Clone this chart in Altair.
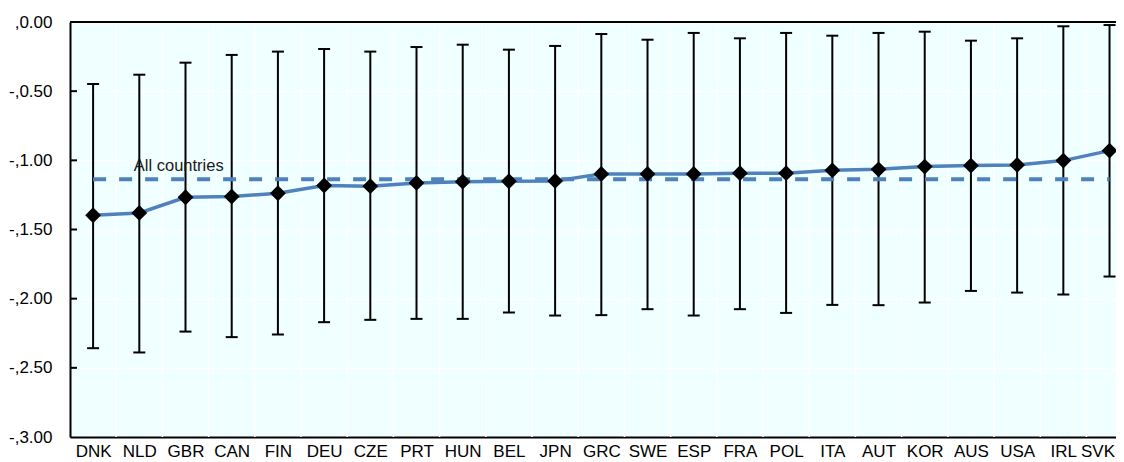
import altair as alt
import pandas as pd

countries = ["DNK", "NLD", "GBR", "CAN", "FIN", "DEU", "CZE", "PRT", "HUN", "BEL", "JPN",
             "GRC", "SWE", "ESP", "FRA", "POL", "ITA", "AUT", "KOR", "AUS", "USA", "IRL", "SVK"]
estimate = [-1.397, -1.380, -1.267, -1.262, -1.238, -1.182, -1.187, -1.163, -1.154, -1.151, -1.149,
            -1.098, -1.098, -1.098, -1.093, -1.093, -1.072, -1.065, -1.045, -1.038, -1.033, -1.002, -0.930]
upper = [-0.448, -0.381, -0.294, -0.238, -0.214, -0.195, -0.214, -0.181, -0.164, -0.200, -0.173,
         -0.087, -0.128, -0.079, -0.118, -0.079, -0.099, -0.079, -0.070, -0.135, -0.118, -0.031, -0.022]
lower = [-2.358, -2.389, -2.238, -2.278, -2.259, -2.170, -2.153, -2.146, -2.146, -2.100, -2.122,
         -2.119, -2.076, -2.122, -2.076, -2.103, -2.045, -2.047, -2.028, -1.944, -1.956, -1.970, -1.840]
all_countries = -1.137
all_label = "All countries"
y_ticks = [0.0, -0.5, -1.0, -1.5, -2.0, -2.5, -3.0]

n = len(countries)
df = pd.DataFrame({
    "idx": list(range(n)),
    "country": countries,
    "est": estimate,
    "hi": upper,
    "lo": lower,
    "allc": [all_countries] * n,
})
bounds = pd.DataFrame({"idx": [i + 0.5 for i in range(n - 1)]})
inner_ticks = pd.DataFrame({"est": y_ticks[1:-1]})
top_line = pd.DataFrame({"est": [0.0]})
label_df = pd.DataFrame({"idx": [1], "allc": [all_countries], "text": [all_label]})

FONT = "Liberation Sans, Arial"
BLUE = "#4F81BD"

x_scale = alt.Scale(domain=[-0.5, 22.14], nice=False, zero=False)
y_scale = alt.Scale(domain=[-3, 0], nice=False, zero=False)

last = n - 1
label_array = "[" + ",".join("'" + c + "'" for c in countries) + "]"
x_axis = alt.Axis(values=list(range(n)), labelExpr=label_array + "[datum.value]",
                  title=None, grid=False, ticks=False, domain=True, domainColor="black",
                  domainWidth=2, labelFont=FONT, labelFontSize=17, labelColor="black",
                  labelPadding=6, labelOverlap=False, labelFlush=False, labelBound=False,
                  labelAngle=0,
                  labelOffset={"condition": {"test": f"datum.value == {last}", "value": -12},
                               "value": 0})
y_axis = alt.Axis(values=y_ticks,
                  labelExpr="datum.value == 0 ? ',0.00' : '-,' + format(abs(datum.value), '.2f')",
                  title=None, grid=True, gridColor="white", gridWidth=1.5, ticks=False,
                  domain=True, domainColor="black", domainWidth=2, labelFont=FONT,
                  labelFontSize=17, labelColor="black", labelPadding=18,
                  labelOverlap=False, labelFlush=False, labelBound=False)

X = lambda f: alt.X(f, scale=x_scale, axis=x_axis)
Y = lambda f: alt.Y(f, scale=y_scale, axis=y_axis)

vgrid = alt.Chart(bounds).mark_rule(color="white", strokeWidth=1.5).encode(x=X("idx:Q"))

whisk = alt.Chart(df).mark_rule(color="black", strokeWidth=2).encode(
    x=X("idx:Q"), y=Y("lo:Q"), y2="hi:Q")
cap_hi = alt.Chart(df).mark_rule(color="black", strokeWidth=2, xOffset=-6, x2Offset=6).encode(
    x=X("idx:Q"), x2="idx:Q", y=Y("hi:Q"))
cap_lo = alt.Chart(df).mark_rule(color="black", strokeWidth=2, xOffset=-6, x2Offset=6).encode(
    x=X("idx:Q"), x2="idx:Q", y=Y("lo:Q"))

dashed = alt.Chart(df).mark_line(color=BLUE, strokeWidth=4, strokeDash=[13, 13]).encode(
    x=X("idx:Q"), y=Y("allc:Q"))
solid = alt.Chart(df).mark_line(color=BLUE, strokeWidth=3.5).encode(
    x=X("idx:Q"), y=Y("est:Q"))
pts = alt.Chart(df).mark_point(shape="diamond", filled=True, size=250, color="black",
                                opacity=1).encode(x=X("idx:Q"), y=Y("est:Q"))

label = alt.Chart(label_df).mark_text(align="left", baseline="alphabetic", dx=-5.5, dy=-8,
                                      font=FONT, fontSize=16.5, color="#1a1a1a").encode(
    x=X("idx:Q"), y=Y("allc:Q"), text="text:N")

ticks_in = alt.Chart(inner_ticks).mark_rule(color="black", strokeWidth=2).encode(
    y=Y("est:Q"), x=alt.value(0), x2=alt.value(7))
top = alt.Chart(top_line).mark_rule(color="black", strokeWidth=2).encode(y=Y("est:Q"))

chart = alt.layer(vgrid, whisk, cap_hi, cap_lo, dashed, solid, pts, label, ticks_in, top).properties(
    width=1046, height=415,
    autosize=alt.AutoSizeParams(type="none"),
    padding={"left": 62, "top": 14, "right": 0, "bottom": 24},
    background="white",
).configure_view(fill="#F0FFFF", strokeOpacity=0)

chart.save("out.html", embed_options={"renderer": "svg", "actions": False})
